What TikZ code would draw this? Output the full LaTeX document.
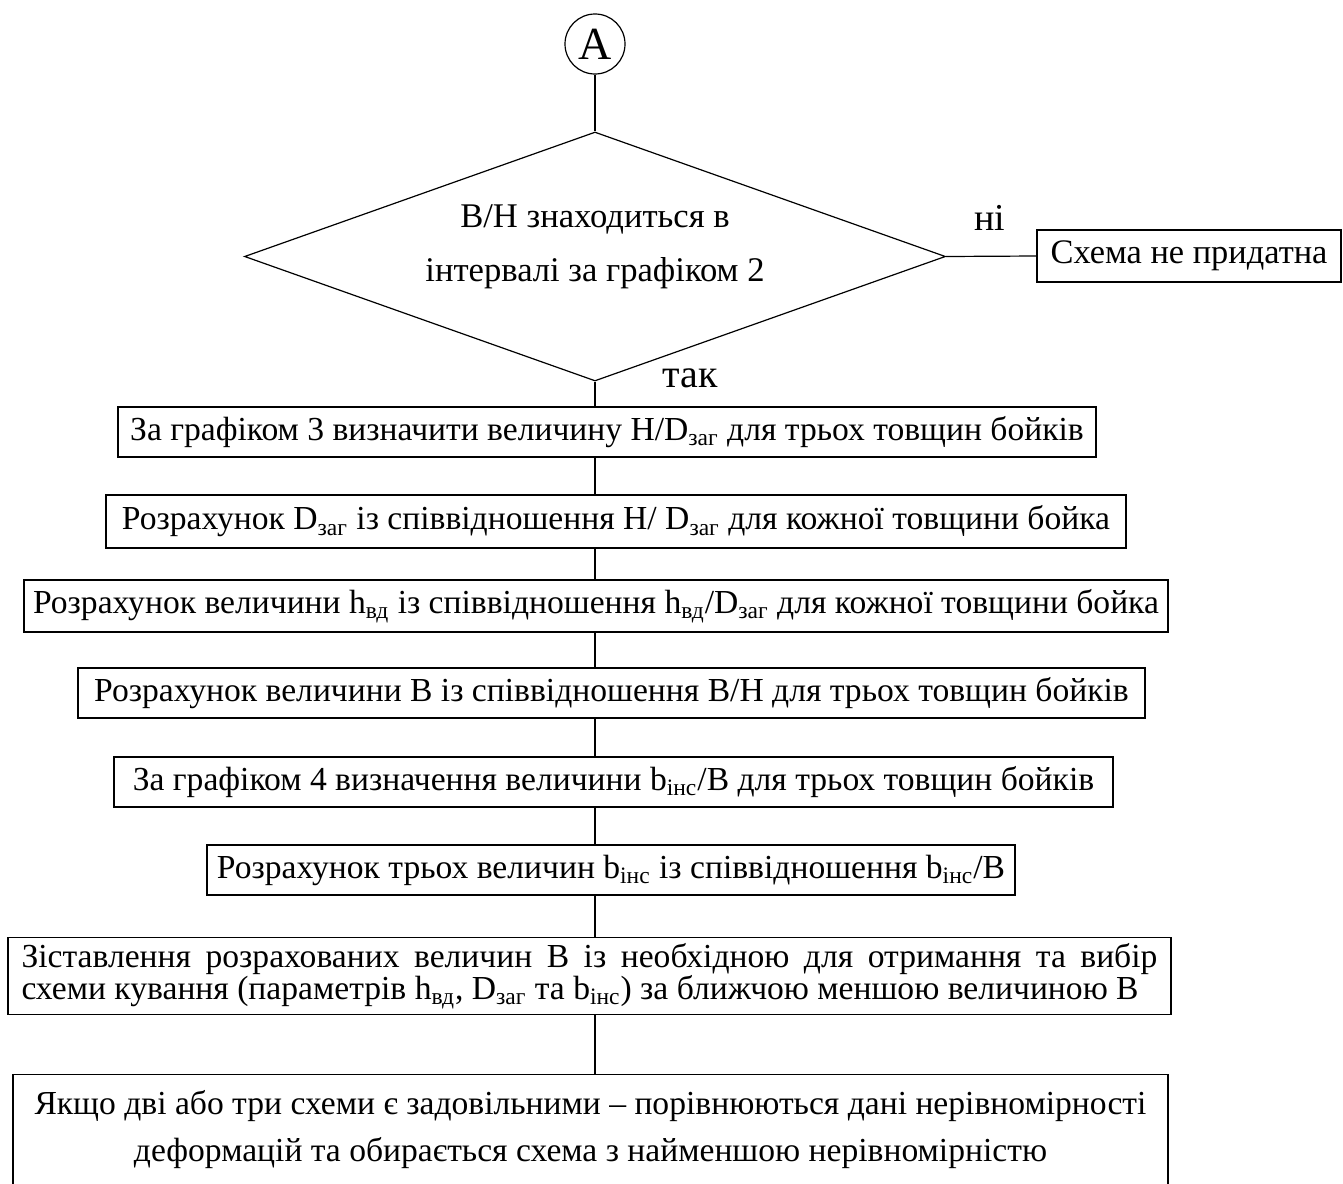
\documentclass[tikz,border=0pt]{standalone}
\usepackage{fontspec}
\setmainfont{Liberation Serif}
\usetikzlibrary{shapes.geometric}
\newcommand{\sbs}[1]{\textsubscript{#1}}
\begin{document}
\begin{tikzpicture}[x=0.5pt,y=-0.5pt,
  every node/.style={font=\fontsize{16.8}{20}\selectfont},
  box/.style={draw,line width=0.6pt,rectangle,inner sep=0pt,minimum height=25pt},
  conn/.style={draw,line width=0.6pt}]
\useasboundingbox (0,0) rectangle (1343,1183);
\node[draw,circle,line width=0.6pt,minimum size=30pt,inner sep=0pt,font=\fontsize{23}{24}\selectfont] (a) at (595,44) {A};
\node[draw,diamond,line width=0.6pt,minimum width=350.5pt,minimum height=124.5pt,inner sep=0pt] (d) at (595,256.5) {};
\node[align=center,font=\fontsize{17.3}{27}\selectfont] (dt) at (595,247) {В/Н знаходиться в\\інтервалі за графіком 2};
\node (ni) at (990,218) {\fontsize{19}{20}\selectfont ні};
\node (tak) at (690,378) {\fontsize{20}{22}\selectfont так};
\node[box,minimum width=152pt,minimum height=26pt,font=\fontsize{17.2}{20}\selectfont] (no) at (1189,256) {Схема не придатна};
\node[box,minimum width=489pt] (b1) at (607,432) {За графіком 3 визначити величину H/D\sbs{заг} для трьох товщин бойків};
\node[box,minimum width=510pt,minimum height=26.5pt] (b2) at (616,521.5) {Розрахунок D\sbs{заг} із співвідношення H/ D\sbs{заг} для кожної товщини бойка};
\node[box,minimum width=572pt,minimum height=26pt] (b3) at (596,606) {Розрахунок величини h\sbs{вд} із співвідношення h\sbs{вд}/D\sbs{заг} для кожної товщини бойка};
\node[box,minimum width=533.5pt] (b4) at (611.5,693) {Розрахунок величини В із співвідношення В/Н для трьох товщин бойків};
\node[box,minimum width=499.5pt] (b5) at (613.5,782) {За графіком 4 визначення величини b\sbs{інс}/В для трьох товщин бойків};
\node[box,minimum width=404pt] (b6) at (611,870) {Розрахунок трьох величин b\sbs{інс} із співвідношення b\sbs{інс}/В};
\node[box,minimum width=581.5pt,minimum height=38.5pt,text width=568pt,align=justify,font=\fontsize{16.8}{16}\selectfont] (b7) at (589.5,976) {\lineskiplimit=-20pt\relax Зіставлення розрахованих величин В із необхідною для отримання та вибір\linebreak схеми кування (параметрів h\sbs{вд}, D\sbs{заг} та b\sbs{інс}) за ближчою меншою величиною В};
\node[box,minimum width=577.5pt,minimum height=67pt,align=center,anchor=north,font=\fontsize{16.8}{23.5}\selectfont] (b8) at (590.5,1074) {Якщо дві або три схеми є задовільними – порівнюються дані нерівномірності\\деформацій та обирається схема з найменшою нерівномірністю\\[-8pt]\mbox{}};
\draw[conn] (a.south) -- (d.north);
\draw[conn] (d.east) -- (no.west);
\draw[conn] (d.south) -- (b1.north -| d.south);
\draw[conn] (b1.south -| d.south) -- (b2.north -| d.south);
\draw[conn] (b2.south -| d.south) -- (b3.north -| d.south);
\draw[conn] (b3.south -| d.south) -- (b4.north -| d.south);
\draw[conn] (b4.south -| d.south) -- (b5.north -| d.south);
\draw[conn] (b5.south -| d.south) -- (b6.north -| d.south);
\draw[conn] (b6.south -| d.south) -- (b7.north -| d.south);
\draw[conn] (b7.south -| d.south) -- (b8.north -| d.south);
\end{tikzpicture}
\end{document}
